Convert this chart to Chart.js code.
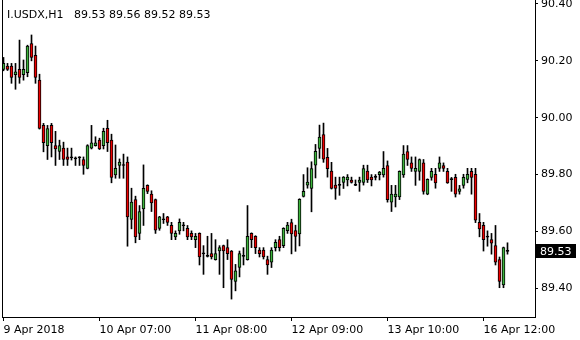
<!DOCTYPE html>
<html>
<head>
<meta charset="utf-8">
<script src="https://cdn.jsdelivr.net/npm/chart.js@4.4.1/dist/chart.umd.min.js"></script>
<style>
    body { margin: 0; background: #ffffff; }
    #wrap { width: 580px; height: 340px; }
</style>
</head>
<body>
<div id="wrap"><canvas id="priceChart" width="580" height="340"></canvas></div>
<script>
// Symbol / timeframe shown in the top left corner
const symbolName = "I.USDX,H1";

// H1 candles, oldest first
const opens = [
    90.170, 90.182, 90.182, 90.151, 90.170, 90.151, 90.158, 90.261, 90.219, 90.132,
    89.973, 89.902, 89.973, 89.902, 89.881, 89.893, 89.862, 89.860, 89.856, 89.859,
    89.853, 89.822, 89.893, 89.902, 89.921, 89.902, 89.963, 89.921, 89.799, 89.832,
    89.833, 89.844, 89.642, 89.712, 89.593, 89.679, 89.762, 89.731, 89.712, 89.611,
    89.641, 89.651, 89.621, 89.581, 89.602, 89.620, 89.611, 89.593, 89.571, 89.593,
    89.521, 89.512, 89.522, 89.501, 89.531, 89.550, 89.543, 89.531, 89.424, 89.473,
    89.512, 89.501, 89.593, 89.583, 89.534, 89.534, 89.501, 89.492, 89.543, 89.571,
    89.550, 89.603, 89.631, 89.603, 89.591, 89.723, 89.763, 89.751, 89.833, 89.892,
    89.941, 89.861, 89.812, 89.763, 89.762, 89.772, 89.781, 89.781, 89.763, 89.772,
    89.772, 89.812, 89.791, 89.790, 89.800, 89.799, 89.832, 89.703, 89.721, 89.721,
    89.799, 89.881, 89.841, 89.811, 89.811, 89.841, 89.731, 89.790, 89.801, 89.822,
    89.832, 89.811, 89.782, 89.790, 89.741, 89.762, 89.783, 89.811, 89.801, 89.632,
    89.621, 89.580, 89.571, 89.550, 89.501, 89.412, 89.530
];
const highs = [
    90.212, 90.191, 90.191, 90.191, 90.273, 90.203, 90.255, 90.291, 90.252, 90.153,
    89.980, 89.973, 89.980, 89.952, 89.921, 89.914, 89.893, 89.893, 89.862, 89.863,
    89.862, 89.905, 89.973, 89.933, 89.928, 89.963, 89.991, 89.942, 89.904, 89.855,
    89.872, 89.862, 89.752, 89.724, 89.691, 89.834, 89.764, 89.743, 89.714, 89.653,
    89.663, 89.653, 89.632, 89.602, 89.644, 89.632, 89.621, 89.602, 89.593, 89.595,
    89.550, 89.583, 89.593, 89.571, 89.550, 89.552, 89.571, 89.533, 89.484, 89.531,
    89.543, 89.691, 89.595, 89.585, 89.543, 89.543, 89.513, 89.543, 89.571, 89.583,
    89.613, 89.632, 89.643, 89.622, 89.715, 89.800, 89.824, 89.845, 89.906, 89.974,
    89.981, 89.892, 89.843, 89.791, 89.791, 89.793, 89.800, 89.791, 89.781, 89.791,
    89.833, 89.833, 89.800, 89.800, 89.811, 89.881, 89.848, 89.762, 89.762, 89.813,
    89.902, 89.902, 89.862, 89.862, 89.855, 89.853, 89.785, 89.822, 89.822, 89.862,
    89.841, 89.822, 89.790, 89.801, 89.762, 89.801, 89.822, 89.822, 89.822, 89.663,
    89.632, 89.602, 89.593, 89.621, 89.510, 89.545, 89.560
];
const lows = [
    90.165, 90.166, 90.121, 90.100, 90.121, 90.132, 90.144, 90.200, 90.121, 89.960,
    89.880, 89.853, 89.862, 89.832, 89.853, 89.832, 89.832, 89.851, 89.832, 89.832,
    89.801, 89.820, 89.890, 89.900, 89.888, 89.890, 89.881, 89.771, 89.787, 89.787,
    89.787, 89.548, 89.609, 89.560, 89.571, 89.621, 89.733, 89.670, 89.593, 89.604,
    89.628, 89.621, 89.571, 89.571, 89.590, 89.602, 89.571, 89.571, 89.543, 89.482,
    89.449, 89.510, 89.503, 89.499, 89.449, 89.402, 89.501, 89.362, 89.391, 89.440,
    89.482, 89.499, 89.543, 89.522, 89.510, 89.503, 89.449, 89.473, 89.531, 89.531,
    89.543, 89.593, 89.521, 89.530, 89.549, 89.721, 89.752, 89.669, 89.788, 89.857,
    89.843, 89.791, 89.749, 89.713, 89.727, 89.751, 89.760, 89.770, 89.761, 89.741,
    89.763, 89.772, 89.760, 89.781, 89.781, 89.791, 89.703, 89.670, 89.686, 89.712,
    89.790, 89.832, 89.811, 89.762, 89.780, 89.731, 89.729, 89.780, 89.752, 89.811,
    89.811, 89.769, 89.741, 89.721, 89.731, 89.752, 89.771, 89.731, 89.631, 89.581,
    89.531, 89.548, 89.520, 89.482, 89.402, 89.402, 89.520
];
const closes = [
    90.191, 90.170, 90.142, 90.161, 90.142, 90.170, 90.252, 90.212, 90.142, 89.962,
    89.912, 89.962, 89.912, 89.890, 89.902, 89.853, 89.853, 89.859, 89.855, 89.860,
    89.832, 89.902, 89.912, 89.912, 89.890, 89.952, 89.912, 89.790, 89.822, 89.844,
    89.832, 89.651, 89.703, 89.581, 89.670, 89.752, 89.741, 89.700, 89.604, 89.651,
    89.642, 89.632, 89.593, 89.593, 89.632, 89.621, 89.581, 89.581, 89.583, 89.510,
    89.522, 89.513, 89.510, 89.522, 89.543, 89.531, 89.522, 89.431, 89.461, 89.522,
    89.513, 89.583, 89.571, 89.543, 89.522, 89.510, 89.482, 89.534, 89.562, 89.543,
    89.611, 89.622, 89.591, 89.582, 89.713, 89.741, 89.774, 89.821, 89.882, 89.932,
    89.854, 89.821, 89.751, 89.751, 89.763, 89.791, 89.791, 89.772, 89.762, 89.781,
    89.821, 89.781, 89.781, 89.791, 89.809, 89.822, 89.712, 89.731, 89.731, 89.811,
    89.872, 89.853, 89.822, 89.822, 89.853, 89.741, 89.783, 89.811, 89.771, 89.841,
    89.822, 89.771, 89.783, 89.731, 89.750, 89.790, 89.801, 89.790, 89.640, 89.609,
    89.571, 89.581, 89.559, 89.492, 89.424, 89.543, 89.531
];

// Time axis labels and the bar index each one sits on
const timeLabels = ["9 Apr 2018", "10 Apr 07:00", "11 Apr 08:00", "12 Apr 09:00", "13 Apr 10:00", "16 Apr 12:00"];
const timeLabelBars = [0, 24, 48, 72, 96, 120];

// Price axis levels
const priceTicks = [89.40, 89.60, 89.80, 90.00, 90.20, 90.40];

const bullColor = "#3cb43c";
const bearColor = "#ee0000";

Chart.defaults.font.family = "'DejaVu Sans', Verdana, sans-serif";
Chart.defaults.font.size = 11;
Chart.defaults.color = "#000000";

// Draws the left frame line, the header text and the last price tag
const terminalDecor = {
    id: "terminalDecor",
    afterDraw(chart) {
        let ctx = chart.ctx;
        let area = chart.chartArea;
        let yScale = chart.scales.y;
        let last = closes.length - 1;

        ctx.save();
        ctx.strokeStyle = "#000000";
        ctx.lineWidth = 1;
        ctx.beginPath();
        ctx.moveTo(Math.round(area.left) + 0.5, 0);
        ctx.lineTo(Math.round(area.left) + 0.5, area.bottom);
        ctx.stroke();

        ctx.fillStyle = "#000000";
        ctx.font = "11px 'DejaVu Sans'";
        ctx.textBaseline = "alphabetic";
        ctx.textAlign = "left";
        let header = symbolName + "   " + [opens[last], highs[last], lows[last], closes[last]].map(v => v.toFixed(2)).join(" ");
        ctx.fillText(header, 7, 18);

        // last close tag on the price axis
        let py = Math.round(yScale.getPixelForValue(closes[last]));
        ctx.fillRect(area.right + 1, py - 7, 40, 14);
        ctx.fillStyle = "#ffffff";
        ctx.textBaseline = "middle";
        ctx.fillText(closes[last].toFixed(2), area.right + 5, py + 1);
        ctx.restore();
    }
};

let ctx = document.getElementById("priceChart").getContext("2d");
let priceChart = new Chart(ctx, {
    type: "bar",
    data: {
        datasets: [
            {
                // candle bodies
                label: "body",
                data: opens.map((o, i) => ({ x: i, y: [o, closes[i]] })),
                backgroundColor: (c) => {
                    let i = c.dataIndex;
                    if (Math.abs(closes[i] - opens[i]) < 0.0025) return "#000000";
                    return closes[i] > opens[i] ? bullColor : bearColor;
                },
                borderColor: "#000000",
                borderWidth: 1,
                borderSkipped: false,
                barThickness: 3,
                minBarLength: 1,
                grouped: false,
                order: 0
            },
            {
                // high-low wicks
                label: "wick",
                data: lows.map((l, i) => ({ x: i, y: [l, highs[i]] })),
                backgroundColor: "#000000",
                borderWidth: 0,
                barThickness: 1,
                grouped: false,
                order: 1
            }
        ]
    },
    options: {
        responsive: false,
        animation: false,
        layout: { padding: { left: 2, top: 0, right: 0, bottom: 0 } },
        plugins: {
            legend: { display: false },
            tooltip: { enabled: false }
        },
        scales: {
            x: {
                type: "linear",
                offset: false,
                min: -0.375,
                max: 132.875,
                afterBuildTicks: (axis) => {
                    axis.ticks = timeLabelBars.map(v => ({ value: v }));
                },
                afterFit: (axis) => {
                    axis.height = 23;
                    axis.paddingLeft = 0;
                    axis.paddingRight = 0;
                },
                ticks: {
                    autoSkip: false,
                    maxRotation: 0,
                    align: "start",
                    padding: 3,
                    color: "#000000",
                    callback: (v) => {
                        let idx = timeLabelBars.indexOf(v);
                        return idx >= 0 ? timeLabels[idx] : "";
                    }
                },
                grid: { offset: false, drawOnChartArea: false, tickLength: 4, color: "#000000" },
                border: { color: "#000000" }
            },
            y: {
                position: "right",
                min: 89.299,
                max: 90.414,
                afterBuildTicks: (axis) => {
                    axis.ticks = priceTicks.map(v => ({ value: v }));
                },
                afterFit: (axis) => {
                    axis.width = 45;
                    axis.paddingTop = 0;
                    axis.paddingBottom = 0;
                },
                ticks: {
                    padding: 3,
                    color: "#000000",
                    callback: (v) => v.toFixed(2)
                },
                grid: { drawOnChartArea: false, tickLength: 3, color: "#000000" },
                border: { color: "#000000" }
            }
        }
    },
    plugins: [terminalDecor]
});
</script>
</body>
</html>
